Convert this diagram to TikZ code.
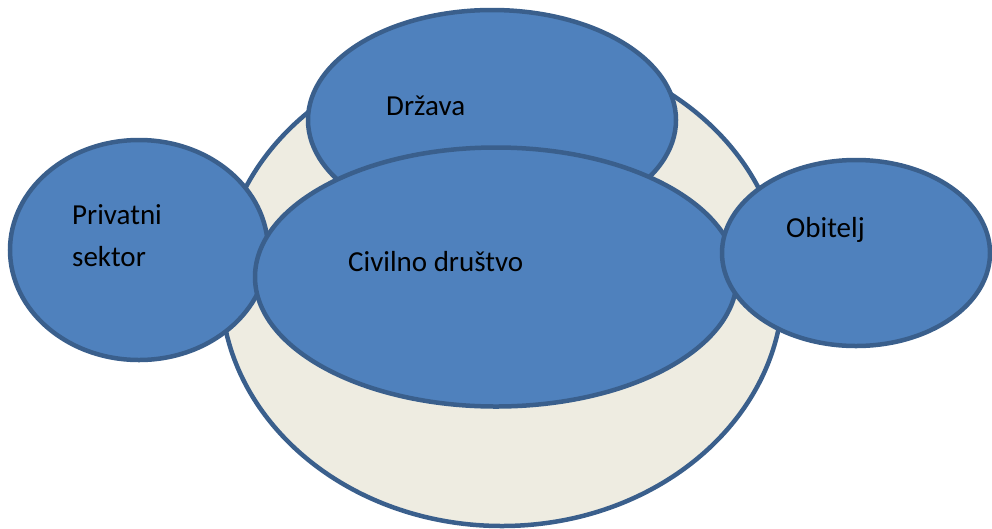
\documentclass[tikz,border=0pt]{standalone}
\usepackage{fontspec}
\setmainfont{Carlito}
\usetikzlibrary{shapes.geometric}
\definecolor{blobfill}{HTML}{4F81BD}
\definecolor{blobline}{HTML}{3A5F8C}
\definecolor{beige}{HTML}{EEECE1}
\tikzset{
  blob/.style={ellipse, draw=blobline, fill=blobfill, line width=4.5pt, inner sep=0pt},
  outer/.style={ellipse, draw=blobline, fill=beige, line width=4.5pt, inner sep=0pt},
  lbl/.style={anchor=base west, inner sep=0pt, font=\fontsize{29}{35}\selectfont, text=black}
}
\begin{document}
\begin{tikzpicture}[x=1pt,y=-1pt]
\useasboundingbox (0,0) rectangle (992,528);
\node[outer, minimum width=562pt, minimum height=480pt] (big) at (502,286) {};
\node[blob, minimum width=368pt, minimum height=220pt] (drz) at (492,120) {};
\node[blob, minimum width=258pt, minimum height=220pt] (priv) at (139,250) {};
\node[blob, minimum width=482pt, minimum height=259pt] (civ) at (496,277) {};
\node[blob, minimum width=268pt, minimum height=186pt] (obi) at (856,253) {};
\node[lbl] (tdrz) at (386,115) {Država};
\node[lbl] (tpriv1) at (72,224) {Privatni};
\node[lbl] (tpriv2) at (72,266) {sektor};
\node[lbl] (tciv) at (348,271) {Civilno društvo};
\node[lbl] (tobi) at (786,237) {Obitelj};
\end{tikzpicture}
\end{document}
